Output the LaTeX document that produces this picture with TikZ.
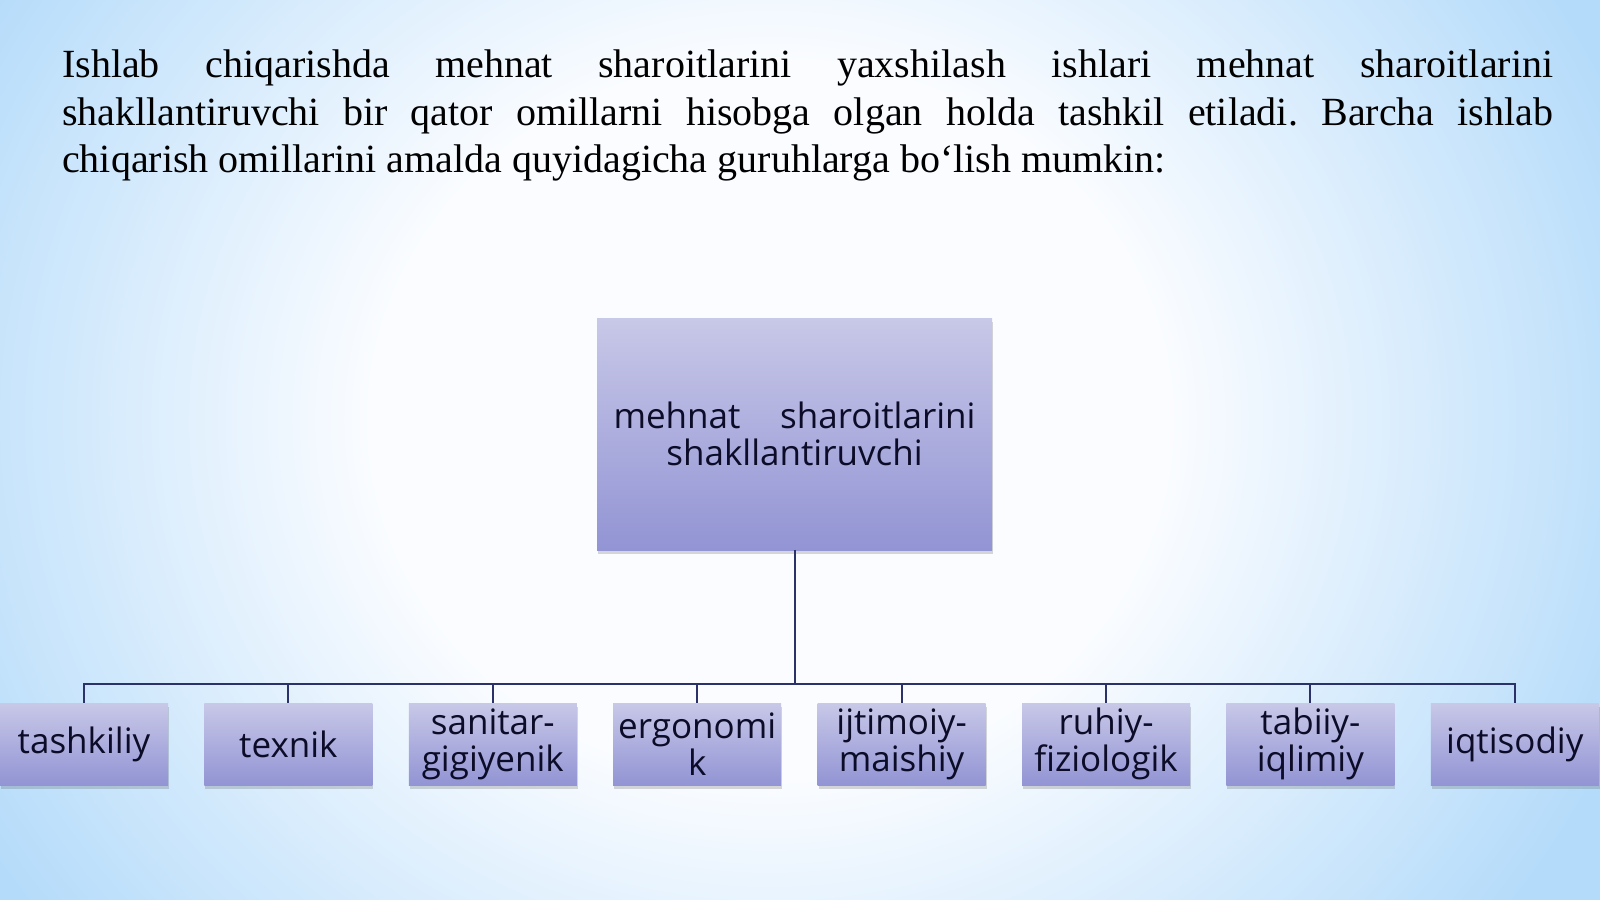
\documentclass[tikz,border=0pt]{standalone}
\usepackage{fontspec}
\setmainfont{Liberation Serif}
\newfontfamily\boxfont{Open Sans}
\usetikzlibrary{shadows}
\definecolor{bgblue}{RGB}{180,219,250}
\definecolor{bgwhite}{RGB}{250,252,255}
\definecolor{boxtop}{RGB}{200,200,232}
\definecolor{boxbot}{RGB}{146,148,212}
\definecolor{linecol}{RGB}{42,50,105}
\definecolor{txtcol}{RGB}{12,12,40}
\pgfdeclareradialshading{bgshade}{\pgfpoint{0bp}{0bp}}{color(0bp)=(bgwhite); color(10bp)=(bgwhite); color(23bp)=(bgblue); color(50bp)=(bgblue)}
\begin{document}
\begin{tikzpicture}[x=1pt,y=-1pt,
  catbox/.style={draw=none, top color=boxtop, bottom color=boxbot,
    minimum width=168pt, minimum height=82pt, inner sep=0pt,
    font=\boxfont\fontsize{35}{37}\selectfont, text=txtcol, align=center,
    drop shadow={shadow xshift=1pt, shadow yshift=-4pt, opacity=0.22, fill=black!70}},
  conn/.style={draw=linecol, line width=2pt}]
\useasboundingbox (0,0) rectangle (1600,899);
\begin{scope}
\clip (0,0) rectangle (1600,899);
\fill[bgblue] (0,0) rectangle (1600,899);
\shade[shading=bgshade] (770,420) ellipse [x radius=1000, y radius=900];
\end{scope}
\node[anchor=north west, inner sep=0pt, text width=1491pt, align=justify,
  font=\fontsize{40}{47.5}\selectfont, text=black] (title) at (62,50)
  {\hyphenpenalty=10000\relax\exhyphenpenalty=10000\relax\frenchspacing
   Ishlab chiqarishda mehnat sharoitlarini yaxshilash ishlari mehnat sharoitlarini\linebreak
   shakllantiruvchi bir qator omillarni hisobga olgan holda tashkil etiladi. Barcha ishlab\linebreak
   chiqarish omillarini amalda quyidagicha guruhlarga bo‘lish mumkin:};
\node[catbox, minimum width=395pt, minimum height=232pt] (main) at (794.5,434)
  {\makebox[362pt][s]{mehnat sharoitlarini}\\shakllantiruvchi};
\node[catbox] (b1) at (84,744) {tashkiliy};
\node[catbox] (b2) at (288.4,744) {texnik};
\node[catbox] (b3) at (492.8,744) {sanitar-\\gigiyenik};
\node[catbox] (b4) at (697.2,744) {ergonomi\\k};
\node[catbox] (b5) at (901.6,744) {ijtimoiy-\\maishiy};
\node[catbox] (b6) at (1106,744) {ruhiy-\\fiziologik};
\node[catbox] (b7) at (1310.4,744) {tabiiy-\\iqlimiy};
\node[catbox] (b8) at (1514.8,744) {iqtisodiy};
\coordinate (bus) at (794.5,684);
\draw[conn] (main.south) -- (bus);
\foreach \b in {b1,b2,b3,b4,b5,b6,b7,b8}{\draw[conn] (\b.north) |- (bus);}
\end{tikzpicture}
\end{document}
